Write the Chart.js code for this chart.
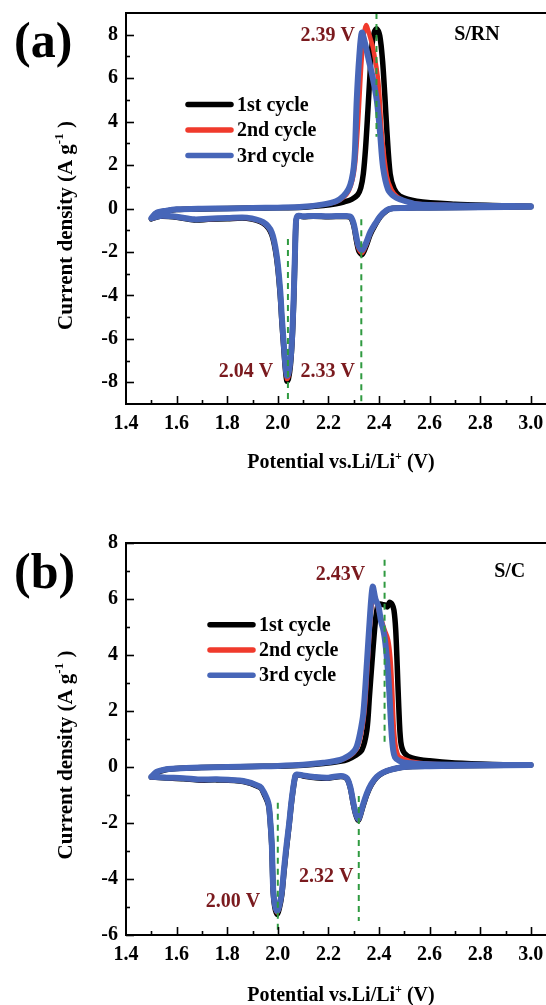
<!DOCTYPE html>
<html lang="en">
<head>
  <meta charset="UTF-8">
  <title>Cyclic voltammograms S/RN and S/C</title>
  <script src="https://cdn.jsdelivr.net/npm/chart.js@4.4.0/dist/chart.umd.min.js"></script>
  <style>
    html, body { margin: 0; padding: 0; background: #fff; overflow: hidden; }
    canvas { position: absolute; left: 0; }
  </style>
</head>
<body>

  <canvas id="chartA" width="546" height="490" style="top:0;"></canvas>
  <canvas id="chartB" width="546" height="505" style="top:500px;"></canvas>

  <script>
    // ---------- data ----------
    const cycleLabels = ["1st cycle", "2nd cycle", "3rd cycle"];
    const xTicks = [1.4, 1.6, 1.8, 2.0, 2.2, 2.4, 2.6, 2.8, 3.0];
    const yTicksA = [-8, -6, -4, -2, 0, 2, 4, 6, 8];
    const yTicksB = [-6, -4, -2, 0, 2, 4, 6, 8];

    // (a) S/RN - cathodic scan 3.0 -> 1.5 V (shared potentials)
    const aCathV = [3.0, 2.8, 2.6, 2.5, 2.45, 2.43, 2.405, 2.385, 2.365, 2.35, 2.333, 2.32, 2.312, 2.3, 2.288, 2.27, 2.2, 2.14, 2.1, 2.078, 2.072, 2.068, 2.063, 2.057, 2.05, 2.042, 2.036, 2.03, 2.024, 2.016, 2.009, 1.996, 1.976, 1.942, 1.877, 1.8, 1.725, 1.67, 1.6, 1.535, 1.5];
    const aCathI1 = [0.08, 0.06, 0.04, 0.02, 0.0, -0.1, -0.38, -0.75, -1.2, -1.7, -2.12, -1.95, -1.55, -0.78, -0.42, -0.37, -0.38, -0.36, -0.38, -0.36, -0.65, -2.1, -4.2, -6.0, -7.2, -7.85, -7.95, -7.4, -6.5, -5.2, -3.9, -2.35, -1.2, -0.68, -0.45, -0.47, -0.5, -0.53, -0.4, -0.36, -0.48];
    const aCathI2 = [0.08, 0.06, 0.04, 0.02, 0.0, -0.09, -0.37, -0.73, -1.15, -1.65, -2.05, -1.88, -1.5, -0.75, -0.4, -0.36, -0.37, -0.35, -0.37, -0.35, -0.62, -2.05, -4.1, -5.9, -7.1, -7.75, -7.85, -7.3, -6.4, -5.1, -3.8, -2.3, -1.15, -0.66, -0.44, -0.46, -0.49, -0.52, -0.39, -0.35, -0.47];
    const aCathI3 = [0.08, 0.06, 0.04, 0.02, 0.0, -0.08, -0.35, -0.7, -1.1, -1.55, -1.92, -1.75, -1.4, -0.7, -0.38, -0.34, -0.36, -0.34, -0.36, -0.34, -0.6, -2.0, -4.0, -5.8, -7.0, -7.6, -7.7, -7.2, -6.3, -5.0, -3.7, -2.2, -1.1, -0.63, -0.42, -0.44, -0.47, -0.5, -0.38, -0.34, -0.45];
    // (a) S/RN - anodic scan 1.5 -> 3.0 V
    const aAnoV1 = [1.5, 1.52, 1.56, 1.6, 1.7, 1.8, 1.9, 2.0, 2.1, 2.18, 2.23, 2.26, 2.292, 2.315, 2.328, 2.338, 2.347, 2.356, 2.365, 2.373, 2.382, 2.391, 2.403, 2.414, 2.423, 2.431, 2.444, 2.46, 2.483, 2.549, 2.7, 2.85, 3.0];
    const aAnoI1 = [-0.48, -0.22, -0.11, -0.05, -0.02, 0.0, 0.02, 0.03, 0.06, 0.14, 0.22, 0.3, 0.42, 0.62, 0.95, 1.6, 2.8, 4.5, 6.3, 7.6, 8.15, 8.27, 7.95, 6.8, 5.2, 3.6, 1.6, 0.9, 0.57, 0.34, 0.2, 0.14, 0.1];
    const aAnoV2 = [1.5, 1.52, 1.56, 1.6, 1.7, 1.8, 1.9, 2.0, 2.1, 2.18, 2.23, 2.259, 2.28, 2.295, 2.305, 2.312, 2.32, 2.33, 2.34, 2.349, 2.362, 2.378, 2.398, 2.411, 2.431, 2.45, 2.47, 2.5, 2.55, 2.7, 2.85, 3.0];
    const aAnoI2 = [-0.47, -0.21, -0.1, -0.04, -0.01, 0.0, 0.02, 0.04, 0.08, 0.18, 0.3, 0.5, 0.8, 1.3, 2.0, 3.0, 4.5, 6.6, 8.0, 8.45, 8.0, 7.3, 5.76, 3.47, 1.49, 0.85, 0.57, 0.35, 0.22, 0.15, 0.12, 0.1];
    const aAnoV3 = [1.5, 1.52, 1.56, 1.6, 1.7, 1.8, 1.9, 2.0, 2.1, 2.18, 2.23, 2.259, 2.28, 2.292, 2.3, 2.305, 2.312, 2.322, 2.332, 2.345, 2.36, 2.372, 2.391, 2.404, 2.416, 2.436, 2.46, 2.483, 2.55, 2.7, 2.85, 3.0];
    const aAnoI3 = [-0.45, -0.2, -0.1, -0.04, -0.01, 0.0, 0.02, 0.04, 0.08, 0.19, 0.33, 0.57, 0.9, 1.33, 1.9, 2.7, 5.0, 7.0, 8.1, 7.6, 6.8, 6.2, 5.0, 3.5, 1.9, 0.87, 0.55, 0.42, 0.2, 0.14, 0.12, 0.1];

    // (b) S/C - cathodic scan
    const bCathV = [3.0, 2.8, 2.6, 2.5, 2.444, 2.415, 2.391, 2.37, 2.352, 2.335, 2.319, 2.308, 2.299, 2.286, 2.273, 2.25, 2.2, 2.15, 2.1, 2.075, 2.068, 2.055, 2.045, 2.035, 2.025, 2.016, 2.006, 1.997, 1.988, 1.982, 1.979, 1.976, 1.97, 1.963, 1.945, 1.93, 1.864, 1.759, 1.69, 1.627, 1.56, 1.5];
    const bCathI1 = [0.07, 0.05, 0.03, 0.0, -0.1, -0.21, -0.37, -0.63, -0.98, -1.45, -1.9, -1.7, -1.35, -0.73, -0.42, -0.34, -0.4, -0.38, -0.32, -0.28, -0.37, -1.2, -2.05, -2.85, -3.7, -4.55, -5.05, -5.26, -5.0, -4.5, -3.7, -2.8, -1.95, -1.35, -0.95, -0.73, -0.52, -0.46, -0.47, -0.42, -0.39, -0.36];
    const bCathI2 = [0.07, 0.05, 0.03, 0.0, -0.1, -0.2, -0.36, -0.62, -0.96, -1.43, -1.88, -1.68, -1.33, -0.72, -0.41, -0.33, -0.39, -0.37, -0.31, -0.28, -0.36, -1.18, -2.03, -2.8, -3.65, -4.5, -5.0, -5.2, -4.95, -4.45, -3.65, -2.75, -1.92, -1.32, -0.92, -0.72, -0.51, -0.45, -0.46, -0.41, -0.38, -0.35];
    const bCathI3 = [0.07, 0.05, 0.03, 0.0, -0.1, -0.2, -0.35, -0.6, -0.94, -1.4, -1.85, -1.65, -1.3, -0.7, -0.4, -0.32, -0.38, -0.36, -0.3, -0.27, -0.35, -1.15, -2.0, -2.75, -3.6, -4.45, -4.95, -5.15, -4.9, -4.4, -3.6, -2.7, -1.9, -1.3, -0.9, -0.7, -0.5, -0.44, -0.45, -0.4, -0.38, -0.35];
    // (b) S/C - anodic scan
    const bAnoV1 = [1.5, 1.52, 1.56, 1.6, 1.7, 1.8, 1.9, 2.0, 2.1, 2.18, 2.246, 2.277, 2.305, 2.332, 2.352, 2.362, 2.372, 2.385, 2.395, 2.405, 2.415, 2.424, 2.433, 2.442, 2.452, 2.459, 2.466, 2.472, 2.478, 2.486, 2.5, 2.53, 2.6, 2.7, 2.85, 3.0];
    const bAnoI1 = [-0.36, -0.2, -0.09, -0.05, -0.02, 0.0, 0.02, 0.03, 0.06, 0.12, 0.2, 0.27, 0.4, 0.6, 1.32, 2.5, 3.72, 5.14, 5.75, 5.82, 5.8, 5.79, 5.72, 5.88, 5.8, 5.6, 4.9, 3.6, 2.17, 0.9, 0.5, 0.33, 0.22, 0.14, 0.09, 0.07];
    const bAnoV2 = [1.5, 1.52, 1.56, 1.6, 1.7, 1.8, 1.9, 2.0, 2.1, 2.18, 2.246, 2.28, 2.3, 2.315, 2.33, 2.343, 2.356, 2.368, 2.378, 2.39, 2.401, 2.412, 2.422, 2.436, 2.445, 2.452, 2.458, 2.465, 2.477, 2.5, 2.525, 2.6, 2.8, 3.0];
    const bAnoI2 = [-0.36, -0.19, -0.08, -0.05, -0.02, 0.0, 0.02, 0.04, 0.08, 0.15, 0.24, 0.37, 0.5, 0.7, 1.2, 2.0, 3.8, 5.5, 6.2, 5.9, 5.5, 5.2, 4.9, 4.55, 3.9, 2.8, 1.5, 0.8, 0.4, 0.28, 0.2, 0.12, 0.08, 0.07];
    const bAnoV3 = [1.5, 1.52, 1.56, 1.6, 1.7, 1.8, 1.9, 2.0, 2.1, 2.18, 2.246, 2.28, 2.3, 2.312, 2.325, 2.338, 2.352, 2.365, 2.375, 2.386, 2.398, 2.408, 2.417, 2.424, 2.432, 2.44, 2.449, 2.456, 2.463, 2.48, 2.511, 2.6, 2.8, 3.0];
    const bAnoI3 = [-0.35, -0.18, -0.08, -0.05, -0.02, 0.0, 0.02, 0.04, 0.08, 0.15, 0.25, 0.4, 0.55, 0.73, 1.2, 1.92, 3.7, 5.49, 6.44, 6.0, 5.73, 5.2, 4.9, 4.5, 3.8, 2.8, 1.3, 0.6, 0.35, 0.22, 0.14, 0.1, 0.08, 0.07];

    // peak potentials marked on each panel
    const aPeakText = ["2.39 V", "2.04 V", "2.33 V"];
    const bPeakText = ["2.43V", "2.00 V", "2.32 V"];
    const aGuideV = [2.39, 2.04, 2.33];
    const bGuideV = [2.422, 2.0, 2.32];

    // ---------- styling ----------
    const FONT = '"Liberation Serif", "DejaVu Serif", serif';
    const lineColors = ["#000000", "#f03a2c", "#4766b8"];
    const lineWidths = [5.5, 4.5, 6];
    const noteColor = "#7a1a1e";
    const guideColor = "#2f9a40";

    function loop(cathV, cathI, anoV, anoI) {
      const pts = cathV.map((v, i) => ({ x: v, y: cathI[i] }));
      return pts.concat(anoV.map((v, i) => ({ x: v, y: anoI[i] })));
    }

    // text with superscript parts: [[text, isSup], ...], y is baseline
    function richText(ctx, parts, x, y, size, center) {
      const big = "bold " + size + "px " + FONT;
      const small = "bold " + Math.round(size * 0.62) + "px " + FONT;
      let w = 0;
      parts.forEach(p => { ctx.font = p[1] ? small : big; w += ctx.measureText(p[0]).width; });
      let cx = center ? x - w / 2 : x;
      ctx.textAlign = "left";
      ctx.textBaseline = "alphabetic";
      parts.forEach(p => {
        ctx.font = p[1] ? small : big;
        ctx.fillText(p[0], cx, p[1] ? y - size * 0.42 : y);
        cx += ctx.measureText(p[0]).width;
      });
    }

    function decor(cfg) {
      return {
        id: "decor",
        afterDatasetsDraw(chart) {
          const { ctx, chartArea: ca, scales: { x, y } } = chart;
          ctx.save();

          // dashed green guides at the peak potentials
          ctx.strokeStyle = guideColor;
          ctx.lineWidth = 2;
          ctx.setLineDash([6, 5]);
          cfg.guides.forEach((g, i) => {
            const px = x.getPixelForValue(cfg.guideV[i]);
            ctx.beginPath();
            ctx.moveTo(px, y.getPixelForValue(g[0]));
            ctx.lineTo(px, y.getPixelForValue(g[1]));
            ctx.stroke();
          });
          ctx.setLineDash([]);

          // top frame line
          ctx.strokeStyle = "#000";
          ctx.lineWidth = 2;
          ctx.beginPath();
          ctx.moveTo(ca.left, ca.top);
          ctx.lineTo(ca.right, ca.top);
          ctx.stroke();

          // inward major / minor ticks
          ctx.lineWidth = 1.6;
          const xt = x.ticks.map(t => t.value), yt = y.ticks.map(t => t.value);
          const tick = (vals, len, horiz) => vals.forEach(v => {
            ctx.beginPath();
            if (horiz) {
              const px = Math.round(x.getPixelForValue(v)) + 0.5;
              ctx.moveTo(px, ca.bottom); ctx.lineTo(px, ca.bottom - len);
            } else {
              const py = Math.round(y.getPixelForValue(v)) + 0.5;
              ctx.moveTo(ca.left, py); ctx.lineTo(ca.left + len, py);
            }
            ctx.stroke();
          });
          const mids = a => a.slice(1).map((v, i) => (v + a[i]) / 2);
          tick(xt.slice(1), 8, true);
          tick(mids(xt), 4, true);
          tick(yt, 8, false);
          tick(mids(yt), 4, false);

          // axis titles
          ctx.fillStyle = "#000";
          richText(ctx, [["Potential vs.Li/Li", false], ["+", true], [" (V)", false]],
            cfg.xTitle[0], ca.bottom + cfg.xTitle[1], 20, true);
          ctx.save();
          ctx.translate(cfg.yTitle[0], (ca.top + ca.bottom) / 2 + cfg.yTitle[1]);
          ctx.rotate(-Math.PI / 2);
          richText(ctx, [["Current density (A g", false], ["-1", true], [" )", false]], 0, 0, 21, true);
          ctx.restore();

          // panel letter and sample name
          ctx.font = "bold 50px " + FONT;
          ctx.textAlign = "left";
          ctx.textBaseline = "middle";
          ctx.fillText(cfg.panel, cfg.panelPos[0], cfg.panelPos[1]);
          ctx.font = "bold 20px " + FONT;
          ctx.fillText(cfg.sample, x.getPixelForValue(cfg.samplePos[0]), y.getPixelForValue(cfg.samplePos[1]));

          // peak potential labels
          ctx.fillStyle = noteColor;
          ctx.textAlign = "right";
          cfg.notes.forEach((n, i) => {
            ctx.fillText(cfg.noteText[i], x.getPixelForValue(n[0]), y.getPixelForValue(n[1]));
          });

          // legend
          ctx.lineCap = "round";
          ctx.textAlign = "left";
          ctx.fillStyle = "#000";
          chart.data.datasets.forEach((ds, i) => {
            const ly = ca.top + cfg.legend[1] + i * cfg.legend[2];
            const lx = ca.left + cfg.legend[0];
            ctx.strokeStyle = ds.borderColor;
            ctx.lineWidth = 5.5;
            ctx.beginPath();
            ctx.moveTo(lx, ly);
            ctx.lineTo(lx + 43, ly);
            ctx.stroke();
            ctx.fillText(ds.label, lx + 49, ly + 1);
          });

          ctx.restore();
        }
      };
    }

    function makeChart(id, loops, yTicks, yMin, yMax, cfg) {
      const tickFont = { family: FONT, size: 20, weight: "bold" };
      return new Chart(document.getElementById(id), {
        type: "scatter",
        data: {
          datasets: loops.map((pts, i) => ({
            label: cycleLabels[i],
            data: pts,
            showLine: true,
            borderColor: lineColors[i],
            borderWidth: lineWidths[i],
            pointRadius: 0,
            tension: 0.3,
            borderJoinStyle: "round",
            borderCapStyle: "round",
            order: 2 - i
          }))
        },
        options: {
          responsive: false,
          animation: false,
          devicePixelRatio: 1,
          layout: { padding: { top: cfg.padTop, right: 0, bottom: 0, left: 0 } },
          plugins: { legend: { display: false }, tooltip: { enabled: false } },
          scales: {
            x: {
              type: "linear", min: 1.4, max: 3.06,
              afterBuildTicks: s => { s.ticks = xTicks.map(v => ({ value: v })); },
              afterFit: s => { s.height = cfg.xAxisH; s.paddingLeft = 0; s.paddingRight = 0; },
              grid: { display: false, drawTicks: false },
              border: { display: true, color: "#000", width: 2 },
              ticks: { padding: 8, color: "#000", font: tickFont, maxRotation: 0, autoSkip: false,
                       callback: v => Number(v).toFixed(1) }
            },
            y: {
              type: "linear", min: yMin, max: yMax,
              afterBuildTicks: s => { s.ticks = yTicks.map(v => ({ value: v })); },
              afterFit: s => { s.width = 126; s.paddingTop = 0; s.paddingBottom = 0; },
              grid: { display: false, drawTicks: false },
              border: { display: true, color: "#000", width: 2 },
              ticks: { padding: 8, color: "#000", font: tickFont, autoSkip: false,
                       callback: v => String(v) }
            }
          }
        },
        plugins: [decor(cfg)]
      });
    }

    makeChart("chartA", [
      loop(aCathV, aCathI1, aAnoV1, aAnoI1),
      loop(aCathV, aCathI2, aAnoV2, aAnoI2),
      loop(aCathV, aCathI3, aAnoV3, aAnoI3)
    ], yTicksA, -9, 9, {
      padTop: 13, xAxisH: 86,
      guideV: aGuideV, guides: [[9, 3.3], [-1.4, -9], [-0.5, -9]],
      noteText: aPeakText, notes: [[2.305, 7.97], [1.982, -7.5], [2.305, -7.5]],
      panel: "(a)", panelPos: [14, 44],
      sample: "S/RN", samplePos: [2.697, 8.0],
      legend: [62, 91.5, 25.5],
      xTitle: [341, 64], yTitle: [72, 17]
    });

    makeChart("chartB", [
      loop(bCathV, bCathI1, bAnoV1, bAnoI1),
      loop(bCathV, bCathI2, bAnoV2, bAnoI2),
      loop(bCathV, bCathI3, bAnoV3, bAnoI3)
    ], yTicksB, -6, 8, {
      padTop: 43, xAxisH: 70,
      guideV: bGuideV, guides: [[7.4, 0.9], [-1.28, -6], [-1.04, -5.5]],
      noteText: bPeakText, notes: [[2.345, 6.86], [1.93, -4.81], [2.299, -3.92]],
      panel: "(b)", panelPos: [14, 75],
      sample: "S/C", samplePos: [2.855, 6.98],
      legend: [84, 81.7, 25.3],
      xTitle: [341, 66], yTitle: [72, 16]
    });
  </script>
</body>
</html>
